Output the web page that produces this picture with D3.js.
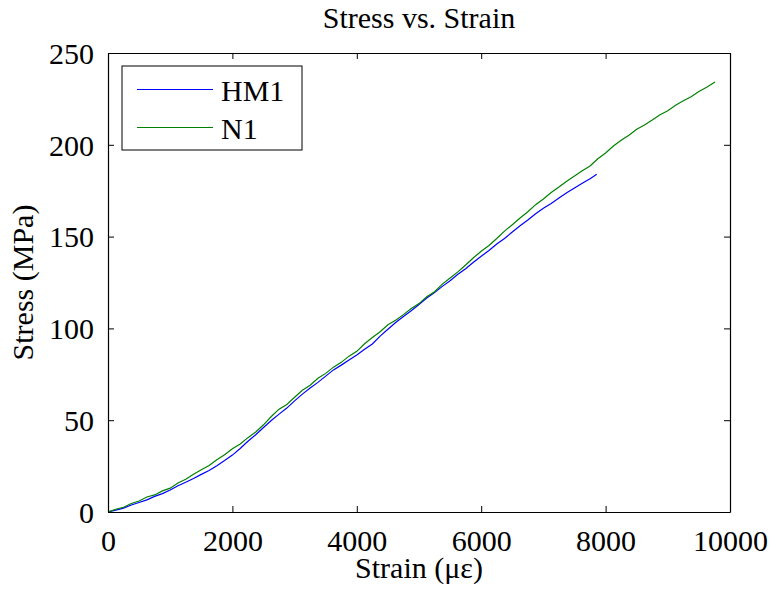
<!DOCTYPE html>
<html>
<head>
<meta charset="utf-8">
<script src="https://cdn.jsdelivr.net/npm/d3@7"></script>
<style>
html,body{margin:0;padding:0;background:#fff;}
svg{display:block;}
text{font-family:"Liberation Serif","Times New Roman",serif;fill:#000;}
</style>
</head>
<body>
<svg id="chart" width="772" height="592"></svg>
<script>
const title = "Stress vs. Strain";
const xLabel = "Strain (\u03bc\u03b5)";
const yLabel = "Stress (MPa)";
const seriesNames = ["HM1", "N1"];
const seriesColors = ["#0000ff", "#008000"];
const xTicks = [0, 2000, 4000, 6000, 8000, 10000];
const yTicks = [0, 50, 100, 150, 200, 250];

// HM1 (blue)
const hm1Strain = [0,125,250,375,500,625,750,875,1000,1125,1250,1375,1500,1625,1750,1875,2000,2125,2250,2375,2500,2625,2750,2875,3000,3125,3250,3375,3500,3625,3750,3875,4000,4125,4250,4375,4500,4625,4750,4875,5000,5125,5250,5375,5500,5625,5750,5875,6000,6125,6250,6375,6500,6625,6750,6875,7000,7125,7250,7375,7500,7625,7750,7857];
const hm1Stress = [0,1.0,2.1,3.8,5.2,6.6,8.5,10.0,12.0,14.3,16.2,18.2,20.5,22.6,25.2,28.0,31.0,34.6,38.5,42.1,46.0,49.8,53.3,56.6,60.5,64.2,67.5,70.6,74.0,77.4,80.0,82.8,85.5,88.6,91.5,95.8,99.5,103.2,106.5,109.6,113.0,116.6,119.5,122.9,126.0,129.5,132.5,136.0,139.3,142.4,146.0,149.0,152.5,155.9,159.0,162.4,165.4,168.0,171.0,173.9,176.5,179.0,181.5,183.9];

// N1 (green)
const n1Strain = [0,125,250,375,500,625,750,875,1000,1125,1250,1375,1500,1625,1750,1875,2000,2125,2250,2375,2500,2625,2750,2875,3000,3125,3250,3375,3500,3625,3750,3875,4000,4125,4250,4375,4500,4625,4750,4875,5000,5125,5250,5375,5500,5625,5750,5875,6000,6125,6250,6375,6500,6625,6750,6875,7000,7125,7250,7375,7500,7625,7750,7875,8000,8125,8250,8375,8500,8625,8750,8875,9000,9125,9250,9375,9500,9625,9759];
const n1Stress = [0,1.5,2.6,4.6,6.0,8.2,9.3,11.5,13.0,15.8,17.8,20.6,23.0,25.3,28.5,31.2,34.5,37.0,40.5,43.6,47.5,52.0,56.0,58.6,62.5,66.3,69.0,72.8,75.5,78.9,81.5,84.9,87.5,91.6,95.0,98.2,102.0,104.4,107.5,110.8,113.5,117.2,120.0,124.1,127.5,130.8,134.5,138.5,142.0,145.2,149.0,153.0,156.5,160.1,163.5,167.4,170.5,174.0,177.0,180.2,183.0,185.9,188.5,192.4,195.5,199.3,202.5,205.2,208.5,210.8,213.5,216.4,218.5,221.6,224.0,226.2,229.0,231.3,234.2];

const svg = d3.select("#chart");
const margin = {left:108, right:42, top:53, bottom:80};
const W = 772, H = 592;
const x = d3.scaleLinear().domain([0, 10000]).range([margin.left, W - margin.right]);
const y = d3.scaleLinear().domain([0, 250]).range([H - margin.bottom, margin.top]);

const fs = 30;
const fontFam = '"Liberation Serif","Times New Roman",serif';

// data lines
const line = d3.line().x(d => x(d[0])).y(d => y(d[1]));
const series = [
  d3.zip(hm1Strain, hm1Stress),
  d3.zip(n1Strain, n1Stress)
];
svg.append("clipPath").attr("id","clip").append("rect")
  .attr("x", x(0)).attr("y", y(250)).attr("width", x(10000)-x(0)).attr("height", y(0)-y(250));
series.forEach((s, i) => {
  svg.append("path").datum(s)
    .attr("d", line)
    .attr("fill", "none")
    .attr("stroke", seriesColors[i])
    .attr("stroke-width", 1.2)
    .attr("clip-path", "url(#clip)");
});

// axes (box with inward ticks on all sides)
const tickLen = 6;
const fmt = d3.format("d");
const xAxisB = d3.axisBottom(x).tickValues(xTicks).tickFormat(fmt).tickSizeInner(-tickLen).tickSizeOuter(0).tickPadding(12);
const xAxisT = d3.axisTop(x).tickValues(xTicks).tickSizeInner(-tickLen).tickSizeOuter(0).tickFormat("");
const yAxisL = d3.axisLeft(y).tickValues(yTicks).tickFormat(fmt).tickSizeInner(-tickLen).tickSizeOuter(0).tickPadding(14);
const yAxisR = d3.axisRight(y).tickValues(yTicks).tickSizeInner(-tickLen).tickSizeOuter(0).tickFormat("");

function style(g){
  g.attr("font-family", fontFam).attr("font-size", fs);
  g.select(".domain").attr("stroke","#000").attr("stroke-width",1.2);
  g.selectAll(".tick line").attr("stroke","#000").attr("stroke-width",1);
  g.selectAll(".tick text").attr("font-family",fontFam).attr("font-size",fs).attr("fill","#000");
}
svg.append("g").attr("transform",`translate(0,${y(0)})`).call(xAxisB).call(style)
  .selectAll(".tick text").attr("dy", null).attr("y", 39);
svg.append("g").attr("transform",`translate(0,${y(250)})`).call(xAxisT).call(style);
svg.append("g").attr("transform",`translate(${x(0)},0)`).call(yAxisL).call(style)
  .selectAll(".tick text").attr("dy","0.34em");
svg.append("g").attr("transform",`translate(${x(10000)},0)`).call(yAxisR).call(style);

// title and labels
svg.append("text").attr("x", (x(0)+x(10000))/2).attr("y", 28)
  .attr("text-anchor","middle").attr("font-size", fs).text(title);
svg.append("text").attr("x", (x(0)+x(10000))/2).attr("y", 578)
  .attr("text-anchor","middle").attr("font-size", fs).text(xLabel);
svg.append("text").attr("transform",`translate(33,${(y(0)+y(250))/2}) rotate(-90)`)
  .attr("text-anchor","middle").attr("font-size", fs).text(yLabel);

// legend
const lg = svg.append("g");
lg.append("rect").attr("x",122).attr("y",66).attr("width",180).attr("height",84)
  .attr("fill","#fff").attr("stroke","#000").attr("stroke-width",1);
seriesNames.forEach((n, i) => {
  const ly = 89.5 + i*38;
  lg.append("line").attr("x1",137).attr("x2",213).attr("y1",ly).attr("y2",ly)
    .attr("stroke",seriesColors[i]).attr("stroke-width",1.2);
  lg.append("text").attr("x",221).attr("y",ly+11).attr("font-size",fs).text(n);
});
</script>
</body>
</html>
